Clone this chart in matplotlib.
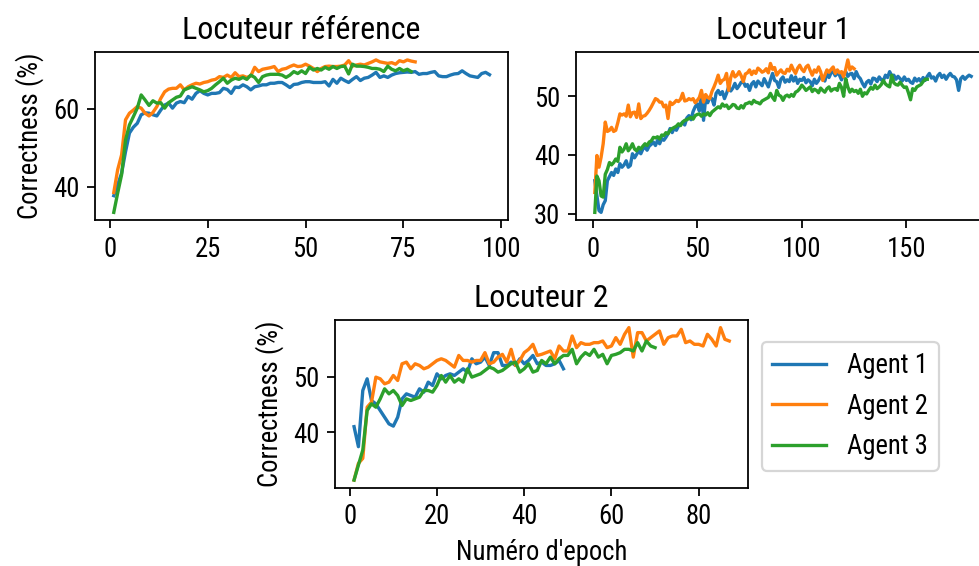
import matplotlib
matplotlib.use("Agg")
import matplotlib.pyplot as plt
from matplotlib import font_manager

# ---------------- data ----------------
ref_agent1 = [37.7, 40.5, 43.5, 49.0, 53.8, 55.3, 56.3, 58.5, 59.0, 58.9,
              58.5, 58.2, 59.7, 61.0, 61.5, 60.2, 61.5, 61.9, 61.6, 63.2,
              62.5, 64.0, 64.7, 64.0, 63.6, 64.0, 64.0, 64.2, 65.3, 65.0,
              64.0, 65.6, 65.5, 66.2, 65.7, 64.9, 65.7, 65.9, 66.2, 66.2,
              66.6, 66.6, 66.8, 66.8, 66.2, 65.5, 66.3, 66.4, 66.8, 67.0,
              67.0, 66.8, 66.8, 66.8, 67.0, 65.9, 67.6, 66.6, 67.9, 67.3,
              66.8, 67.6, 68.3, 67.3, 67.9, 68.1, 68.7, 69.4, 68.1, 68.5,
              68.1, 68.7, 69.1, 69.3, 69.4, 69.5, 69.4, 69.6, 68.9, 69.1,
              69.1, 69.4, 69.6, 68.5, 68.3, 68.3, 68.7, 69.0, 69.1, 69.8,
              69.1, 68.5, 68.3, 68.1, 69.1, 69.4, 68.8]
ref_agent2 = [38.5, 44.4, 48.2, 57.2, 58.9, 59.7, 60.6, 60.2, 58.9, 58.2,
              59.1, 60.6, 62.7, 64.4, 65.1, 65.3, 65.3, 66.2, 64.9, 65.7,
              66.2, 66.6, 66.4, 66.8, 67.0, 67.4, 67.6, 68.3, 68.1, 68.7,
              68.1, 69.3, 68.3, 68.5, 68.1, 68.5, 70.7, 69.6, 70.2, 70.4,
              70.6, 70.9, 69.6, 70.2, 70.4, 70.9, 71.3, 70.9, 71.0, 71.5,
              71.0, 70.4, 69.6, 70.4, 70.9, 71.0, 70.9, 70.9, 71.0, 71.3,
              72.4, 71.0, 71.3, 71.5, 71.3, 71.7, 72.1, 72.6, 72.1, 71.9,
              71.7, 71.9, 71.5, 72.4, 72.1, 72.6, 72.3, 72.1]
ref_agent3 = [33.4, 38.4, 43.1, 52.0, 55.9, 58.0, 60.2, 63.6, 62.3, 60.9,
              62.1, 61.5, 61.6, 60.2, 61.6, 62.3, 63.0, 63.3, 64.9, 65.3,
              65.7, 65.3, 64.9, 64.4, 64.7, 65.3, 66.2, 67.0, 67.9, 66.6,
              67.4, 67.9, 67.6, 68.1, 67.6, 68.7, 68.1, 66.8, 68.3, 68.7,
              68.9, 68.9, 68.9, 68.7, 68.1, 68.7, 69.6, 69.1, 69.8, 69.1,
              70.7, 70.0, 70.4, 70.0, 70.7, 70.2, 70.9, 70.4, 70.9, 71.0,
              69.0, 71.5, 71.0, 71.0, 70.9, 70.7, 70.4, 70.4, 70.2, 69.6,
              71.0, 70.2, 69.8, 70.4, 69.8, 70.2, 69.6]

l1_agent1 = [35.6, 33.0, 30.5, 30.2, 31.5, 32.2, 35.6, 36.3, 37.0, 36.5,
             37.6, 37.0, 38.5, 37.9, 38.3, 39.0, 37.9, 38.2, 40.2, 39.5,
             40.1, 40.7, 40.2, 41.0, 41.3, 40.8, 41.5, 41.8, 42.2, 41.6,
             42.5, 41.9, 42.8, 42.5, 43.0, 43.6, 44.5, 43.8, 44.6, 44.2,
             44.9, 45.2, 45.6, 45.1, 46.3, 46.7, 46.0, 47.4, 48.2, 48.7,
             47.5, 50.5, 45.9, 49.6, 48.9, 49.8, 49.6, 48.5, 50.5, 51.0,
             50.3, 50.8, 49.6, 50.5, 51.6, 50.9, 51.4, 52.2, 51.3, 51.8,
             52.4, 52.5, 51.7, 52.0, 51.0, 52.1, 52.5, 51.6, 52.6, 52.2,
             51.8, 53.0, 52.3, 51.6, 52.8, 53.9, 52.7, 52.5, 51.5, 52.9,
             53.3, 52.4, 52.8, 52.5, 53.5, 52.6, 53.3, 52.2, 52.9, 52.7,
             53.2, 52.3, 52.8, 52.5, 51.8, 52.9, 52.2, 52.7, 53.4, 53.3,
             52.6, 53.9, 53.2, 54.0, 54.2, 53.5, 54.0, 53.6, 52.8, 53.7,
             54.2, 53.4, 53.8, 53.9, 53.0, 54.2, 53.4, 53.0, 52.2, 51.6,
             52.4, 52.7, 52.1, 53.1, 53.0, 52.5, 53.3, 52.8, 52.7, 53.6,
             53.2, 54.2, 53.5, 53.6, 52.9, 53.4, 53.0, 52.6, 53.3, 52.7,
             52.9, 52.4, 52.2, 53.1, 52.6, 53.0, 52.5, 53.2, 52.7, 53.4,
             53.9, 53.1, 53.3, 52.6, 53.5, 53.9, 53.2, 53.6, 52.9, 53.5,
             53.9, 53.4, 53.3, 52.8, 51.0, 53.0, 53.4, 52.9, 53.3, 53.6,
             53.4]
l1_agent2 = [33.6, 39.9, 37.9, 39.6, 41.9, 45.6, 44.0, 44.2, 44.7, 44.0,
             44.2, 45.5, 47.0, 46.8, 47.0, 46.6, 48.5, 46.5, 47.2, 47.3,
             46.4, 48.7, 46.2, 46.6, 46.7, 47.1, 47.6, 48.2, 48.9, 49.6,
             49.4, 49.0, 49.0, 48.2, 48.5, 46.2, 49.0, 48.6, 48.9, 49.3,
             49.1, 49.5, 50.5, 49.2, 49.3, 49.6, 49.4, 49.6, 48.9, 49.3,
             49.8, 51.0, 49.0, 50.3, 49.8, 49.6, 50.8, 51.6, 52.5, 53.6,
             52.2, 52.7, 52.9, 53.9, 51.0, 53.2, 54.2, 53.3, 53.6, 54.2,
             53.5, 52.5, 53.8, 54.0, 54.5, 53.7, 54.3, 53.9, 54.8, 54.5,
             54.1, 54.3, 54.7, 54.0, 55.6, 54.6, 54.9, 53.6, 54.1, 54.5,
             54.0, 53.9, 54.6, 54.3, 55.3, 54.5, 53.9, 54.8, 55.3, 54.6,
             54.2, 55.0, 55.3, 54.4, 53.6, 54.5, 54.1, 55.0, 54.2, 52.7,
             53.6, 54.5, 54.1, 54.6, 55.0, 53.9, 54.5, 54.0, 54.2, 53.3,
             54.6, 56.2, 54.5, 55.0, 54.7]
l1_agent3 = [30.2, 36.4, 35.6, 33.0, 32.8, 36.7, 37.5, 38.7, 38.3, 38.7,
             39.3, 38.9, 41.3, 40.5, 41.0, 41.9, 40.7, 41.2, 41.9, 41.0,
             40.7, 41.3, 41.0, 41.5, 41.9, 41.6, 42.2, 42.4, 43.0, 42.9,
             43.1, 42.7, 43.4, 43.3, 43.8, 43.6, 44.2, 44.5, 44.7, 44.9,
             45.3, 45.0, 45.6, 45.9, 46.0, 46.2, 46.4, 46.1, 46.7, 46.9,
             47.0, 46.6, 47.0, 46.8, 47.2, 46.7, 47.3, 47.6, 47.9, 48.2,
             48.0, 48.7, 48.3, 48.5, 47.9, 48.2, 48.6, 48.5, 48.0, 47.9,
             48.4, 48.0, 48.7, 48.8, 49.0, 48.7, 49.3, 49.0, 48.9, 48.7,
             49.2, 49.4, 49.6, 49.8, 50.5, 49.8, 49.3, 51.0, 50.2, 50.0,
             49.3, 50.0, 50.2, 49.9, 50.3, 50.0, 50.7, 50.9, 51.3, 51.9,
             51.5, 51.0, 51.3, 51.6, 50.8, 51.2, 51.0, 50.6, 51.4, 51.0,
             50.7, 51.3, 51.6, 50.9, 51.2, 51.3, 51.0, 52.2, 51.5, 50.0,
             53.0, 51.6, 50.7, 51.2, 50.8, 51.0, 50.5, 51.2, 50.0, 50.6,
             50.4, 51.0, 51.5, 51.2, 51.9, 51.3, 51.6, 52.0, 52.7, 52.1,
             51.8, 51.6, 53.6, 52.3, 52.0, 51.9, 52.4, 51.9, 51.5, 51.6,
             50.6, 49.4, 51.3, 51.0, 51.6, 51.8, 52.0, 52.5, 52.9, 52.9]

l2_agent1 = [41.0, 37.4, 47.5, 49.6, 45.7, 45.1, 43.9, 42.7, 41.5, 41.1,
             42.7, 46.0, 46.9, 46.6, 46.3, 47.8, 47.2, 49.0, 48.4, 50.5,
             49.6, 50.2, 50.5, 50.2, 50.8, 51.4, 50.8, 53.2, 52.3, 52.6,
             53.5, 52.0, 54.3, 54.3, 52.0, 52.0, 52.6, 52.0, 53.2, 52.3,
             52.9, 53.8, 52.3, 52.6, 52.0, 52.0, 52.3, 52.9, 51.4]
l2_agent2 = [31.4, 34.4, 35.3, 44.5, 45.4, 49.9, 49.6, 48.7, 49.0, 50.2,
             49.3, 52.3, 52.6, 51.4, 52.3, 52.0, 51.4, 51.7, 52.3, 52.9,
             53.2, 52.9, 52.3, 51.7, 53.8, 52.9, 52.9, 52.6, 52.9, 52.9,
             54.3, 52.3, 52.6, 53.5, 54.0, 52.6, 54.9, 52.0, 52.9, 54.3,
             54.9, 55.8, 53.8, 54.0, 54.3, 54.6, 53.2, 55.5, 54.6, 54.6,
             57.3, 55.2, 56.1, 55.8, 55.8, 56.1, 56.1, 56.4, 55.2, 55.5,
             57.0, 55.8, 57.6, 58.8, 53.5, 57.9, 57.9, 56.4, 57.0, 57.6,
             58.2, 55.8, 57.0, 57.3, 57.3, 58.5, 56.1, 56.4, 55.8, 55.8,
             55.5, 57.6, 56.7, 55.5, 58.8, 56.7, 56.4]
l2_agent3 = [31.4, 34.1, 36.8, 43.9, 45.1, 44.5, 46.0, 47.8, 46.9, 47.5,
             46.6, 44.8, 46.0, 45.7, 46.0, 46.3, 47.5, 47.5, 47.2, 48.4,
             50.2, 49.0, 50.2, 49.0, 49.6, 49.0, 51.4, 49.9, 50.2, 50.5,
             51.1, 51.7, 51.4, 50.8, 51.1, 51.7, 52.3, 52.6, 50.8, 51.4,
             52.3, 50.8, 51.1, 52.9, 52.3, 53.5, 52.3, 53.2, 53.8, 53.8,
             54.9, 52.3, 53.5, 54.3, 53.8, 54.9, 53.5, 54.0, 52.3, 53.8,
             54.0, 54.3, 54.9, 54.9, 54.6, 56.1, 54.6, 56.4, 55.5, 55.2]

agent_labels = ["Agent 1", "Agent 2", "Agent 3"]
titles = ["Locuteur référence", "Locuteur 1", "Locuteur 2"]
ylabel = "Correctness (%)"
xlabel = "Numéro d'epoch"

panels = [
    (ref_agent1, ref_agent2, ref_agent3),
    (l1_agent1, l1_agent2, l1_agent3),
    (l2_agent1, l2_agent2, l2_agent3),
]

# ---------------- font ----------------
family = "Roboto"
for cand in ["Roboto Condensed", "Liberation Sans Narrow", "Roboto"]:
    try:
        font_manager.findfont(font_manager.FontProperties(family=cand),
                              fallback_to_default=False)
        family = cand
        break
    except Exception:
        pass
plt.rcParams["font.family"] = [family, "DejaVu Sans"]
plt.rcParams["font.size"] = 12

colors = ["#1f77b4", "#ff7f0e", "#2ca02c"]

DPI = 160
W, H = 979, 566
fig = plt.figure(figsize=(W / DPI, H / DPI), dpi=DPI)

rects = [
    [95 / W, 1 - 220 / H, 413.3 / W, 167.7 / H],
    [576 / W, 1 - 220 / H, 414 / W, 167.7 / H],
    [335.3 / W, 1 - 487.7 / H, 412.7 / W, 167.7 / H],
]
xticks = [[0, 25, 50, 75, 100], [0, 50, 100, 150], [0, 20, 40, 60, 80]]
yticks = [[40, 60], [30, 40, 50], [40, 50]]

axes = []
for i, rect in enumerate(rects):
    ax = fig.add_axes(rect)
    for s, c, lab in zip(panels[i], colors, agent_labels):
        ax.plot(range(1, len(s) + 1), s, color=c, lw=1.5, label=lab)
    ax.set_title(titles[i])
    ax.set_xticks(xticks[i])
    ax.set_yticks(yticks[i])
    axes.append(ax)

axes[0].set_ylabel(ylabel)
axes[2].set_ylabel(ylabel)
axes[2].set_xlabel(xlabel)

handles, labels = axes[2].get_legend_handles_labels()
fig.legend(handles, labels, loc="upper left",
           bbox_to_anchor=(761.7 / W, 1 - 341.7 / H), borderaxespad=0)

fig.savefig("out.png", dpi=DPI)
